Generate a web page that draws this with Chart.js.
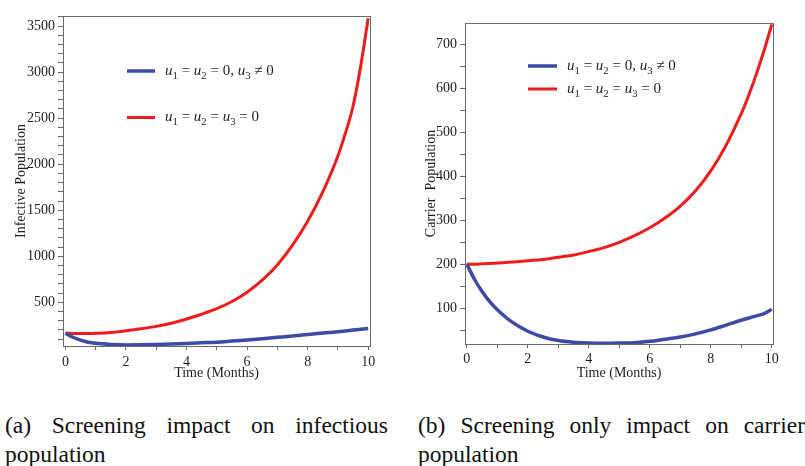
<!DOCTYPE html>
<html><head><meta charset="utf-8">
<script src="https://cdn.jsdelivr.net/npm/chart.js@4.4.1/dist/chart.umd.min.js"></script>
<style>
html,body{margin:0;padding:0;background:#fff}
body{width:805px;height:466px;overflow:hidden;position:relative;font-family:"Liberation Serif","Times New Roman",serif}
#w1{position:absolute;left:0;top:0;width:400px;height:385px}
#w2{position:absolute;left:400px;top:0;width:405px;height:385px}
.cap{position:absolute;top:411px;font-size:23.5px;line-height:29px;text-align:justify;color:#111}
</style></head><body>
<div id="w1"><canvas id="c1" width="400" height="385"></canvas></div>
<div id="w2"><canvas id="c2" width="405" height="385"></canvas></div>
<div class="cap" style="left:5px;width:383px">(a) Screening impact on infectious population</div>
<div class="cap" style="left:418px;width:387px">(b) Screening only impact on carrier population</div>
<script>
// ---------- data ----------
const months = [0,0.25,0.5,0.75,1,1.5,2,2.5,3,3.5,4,4.5,5,5.5,6,6.5,7,7.5,8,8.5,9,9.25,9.5,9.75,10];
// (a) infective population
const infectiveScreening = [163,120,88,66,54,42,37,38,42,47,53,60,67,79,91,104,119,134,150,165,181,189,198,206,215];
const infectiveNoControl = [163,162,161,161,163,172,190,212,238,272,318,370,430,508,610,740,905,1120,1380,1700,2090,2340,2630,3060,3585];
// (b) carrier population
const carrierScreening = [200,166,138,115,97,68,48,35,27,23,21,20.5,21,22,25,30,35,42,51,62,73,78,83,88,98];
const carrierNoControl = [200,200,201,202,203,205,208,211,216,221,229,238,250,265,283,305,332,367,412,470,542,585,633,686,745];
// ticks
const monthTicks = [0,1,2,3,4,5,6,7,8,9,10];
const monthLabels = [0,2,4,6,8,10];
const labelScreening = "u\u2081 = u\u2082 = 0, u\u2083 \u2260 0";
const labelNoControl = "u\u2081 = u\u2082 = u\u2083 = 0";
const xTitle = "Time (Months)";
const yTitleA = "Infective Population";
const yTitleB = "Carrier  Population";

const BLUE = "#3b4ba6", RED = "#f01c1c", AXIS = "#6a6a6a", TXT = "#1e1e1e";
const FONT = "'Liberation Serif','Times New Roman',serif";

const pts = (xs, ys) => xs.map((x,i)=>({x, y: ys[i]}));

const SUBS = {"\u2081":"1","\u2082":"2","\u2083":"3"};
function drawMath(ctx, text, x, y, size){
  ctx.textBaseline = "middle"; ctx.textAlign = "left"; ctx.fillStyle = TXT;
  for (const ch of text){
    if (SUBS[ch]){
      ctx.font = `${size*0.72}px ${FONT}`;
      ctx.fillText(SUBS[ch], x, y + size*0.32);
      x += ctx.measureText(SUBS[ch]).width;
    } else if (ch === "u"){
      ctx.font = `italic ${size}px ${FONT}`;
      ctx.fillText(ch, x, y);
      x += ctx.measureText(ch).width;
    } else {
      ctx.font = `${size}px ${FONT}`;
      ctx.fillText(ch, x, y);
      x += ctx.measureText(ch).width;
    }
  }
}

const inlineLegend = {
  id: "inlineLegend",
  afterDatasetsDraw(chart, args, o){
    const {ctx, chartArea:a} = chart;
    chart.data.datasets.forEach((ds,i)=>{
      const y = a.top + o.y[i];
      const x0 = a.left + o.x;
      ctx.save();
      ctx.strokeStyle = ds.borderColor; ctx.lineWidth = ds.borderWidth;
      ctx.beginPath(); ctx.moveTo(x0,y); ctx.lineTo(x0+o.len,y); ctx.stroke();
      drawMath(ctx, ds.label, x0 + o.len + o.gap, y, o.size);
      ctx.restore();
    });
  }
};
const frame = {
  id: "frame",
  afterDraw(chart){
    const {ctx, chartArea:a} = chart;
    ctx.save(); ctx.strokeStyle = AXIS; ctx.lineWidth = 1;
    ctx.strokeRect(Math.round(a.left)+0.5, Math.round(a.top)+0.5, Math.round(a.right-a.left), Math.round(a.bottom-a.top));
    ctx.restore();
  }
};

function makeChart(id, cfg){
  return new Chart(document.getElementById(id), {
    type: "line",
    data: { datasets: [
      { label: labelScreening, data: pts(months, cfg.blue), borderColor: BLUE, borderWidth: 3.5, pointRadius: 0, cubicInterpolationMode: "monotone", fill:false },
      { label: labelNoControl, data: pts(months, cfg.red), borderColor: RED, borderWidth: 3, pointRadius: 0, cubicInterpolationMode: "monotone", fill:false }
    ]},
    options: {
      responsive: false, animation: false, devicePixelRatio: 1,
      layout: { padding: { left: 0, right: cfg.padRight, top: cfg.padTop, bottom: 0 } },
      plugins: { legend: { display: false }, tooltip: { enabled: false },
        inlineLegend: cfg.legend },
      scales: {
        x: {
          type: "linear", min: cfg.xMin, max: cfg.xMax,
          afterBuildTicks: s => { s.ticks = monthTicks.map(v => ({ value: v })); },
          afterFit: s => { s.height = cfg.xHeight; },
          ticks: { autoSkip: false, maxRotation: 0, padding: cfg.xTickPad, color: TXT, font: { family: FONT, size: 14 },
            callback: v => (monthLabels.includes(v) ? String(v) : "") },
          grid: { drawOnChartArea: false, drawTicks: true, tickLength: 4, color: AXIS },
          border: { display: true, color: AXIS },
          title: { display: true, text: xTitle, color: TXT, font: { family: FONT, size: 14 }, padding: { top: 0, bottom: cfg.xTitlePad } }
        },
        y: {
          type: "linear", min: cfg.yMin, max: cfg.yMax,
          afterBuildTicks: s => {
            const t = [];
            for (let v = Math.ceil(cfg.yMin / cfg.minor) * cfg.minor; v <= cfg.yMax; v += cfg.minor) t.push({ value: v });
            s.ticks = t;
          },
          afterFit: s => { s.width = cfg.yWidth; },
          ticks: { autoSkip: false, padding: 3, color: TXT, font: { family: FONT, size: 14 },
            callback: v => (v % cfg.major === 0 ? String(v) : "") },
          grid: { drawOnChartArea: false, drawTicks: true, tickLength: 5, color: AXIS },
          border: { display: true, color: AXIS },
          title: { display: true, text: cfg.yTitle, color: TXT, font: { family: FONT, size: 14 }, padding: { top: cfg.yTitlePad, bottom: 0 } }
        }
      }
    },
    plugins: [inlineLegend, frame]
  });
}

makeChart("c1", {
  blue: infectiveScreening, red: infectiveNoControl,
  padRight: 30, padTop: 16, xHeight: 39, yWidth: 63, xTickPad: 3.5, xTitlePad: 3.2, yTitlePad: 12.8,
  xMin: -0.08, xMax: 10.06, yMin: 25, yMax: 3610, minor: 100, major: 500, yTitle: yTitleA,
  legend: { x: 64, y: [55, 101.5], len: 28, gap: 10, size: 15 }
});
makeChart("c2", {
  blue: carrierScreening, red: carrierNoControl,
  padRight: 32, padTop: 23, xHeight: 41, yWidth: 65, xTickPad: 2.8, xTitlePad: 3.5, yTitlePad: 23,
  xMin: -0.06, xMax: 10.04, yMin: 19, yMax: 748, minor: 50, major: 100, yTitle: yTitleB,
  legend: { x: 63, y: [43, 66], len: 29, gap: 10, size: 15 }
});
</script>
</body></html>
